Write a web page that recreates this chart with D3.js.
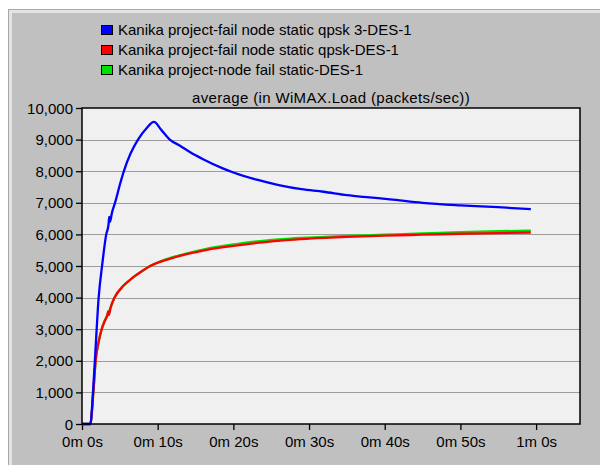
<!DOCTYPE html>
<html>
<head>
<meta charset="utf-8">
<script src="https://cdn.jsdelivr.net/npm/d3@7/dist/d3.min.js"></script>
<style>
  html, body { margin: 0; padding: 0; background: #ffffff; }
  svg { display: block; }
  text { font-family: "Liberation Sans", Arial, sans-serif; fill: #000; }
</style>
</head>
<body>
<svg id="chart" width="600" height="465"></svg>
<script>
// Series: time (seconds) and average WiMAX load (packets/sec)
const seriesNames = [
  "Kanika project-fail node static qpsk 3-DES-1",
  "Kanika project-fail node static qpsk-DES-1",
  "Kanika project-node fail static-DES-1"
];
const seriesColors = ["#0000ff", "#ff0000", "#00e000"];

const blueTime  = [0, 1.1, 1.45, 1.7, 2.2, 2.7, 3.2, 3.5, 3.6, 3.7, 3.95, 4.4, 5.0, 5.5, 6.4, 7.4, 8.5, 9.5, 10.5, 11.6, 13, 14.3, 16, 18.6, 20, 23.1, 26, 29, 31.9, 35, 38, 40.7, 45, 50, 55, 59.3];
const blueLoad  = [0, 0, 1000, 2000, 4000, 5100, 6000, 6300, 6550, 6400, 6680, 7030, 7570, 7980, 8550, 9000, 9350, 9560, 9300, 9000, 8800, 8600, 8380, 8090, 7960, 7730, 7560, 7430, 7350, 7240, 7170, 7110, 7000, 6920, 6860, 6800];

const redTime   = [0, 1.1, 1.5, 1.8, 2.2, 2.6, 3.0, 3.35, 3.45, 3.55, 3.8, 4.3, 5.5, 6.7, 8, 9, 10.3, 12, 14.7, 16, 18, 20, 23.5, 27, 30, 35, 40, 45, 50, 55, 59.3];
const redLoad   = [0, 0, 1000, 2000, 2600, 3000, 3260, 3450, 3560, 3450, 3700, 4000, 4380, 4630, 4850, 5000, 5130, 5260, 5420, 5490, 5570, 5640, 5740, 5820, 5865, 5920, 5960, 5990, 6020, 6040, 6060];

const greenTime = [0, 1.1, 1.5, 1.8, 2.2, 2.6, 3.0, 3.4, 3.8, 4.3, 5.5, 6.7, 8, 9, 10.3, 12, 14.7, 16, 18, 20, 23.5, 27, 30, 35, 40, 45, 50, 55, 59.3];
const greenLoad = [0, 0, 1000, 2000, 2600, 3000, 3260, 3480, 3700, 4000, 4380, 4630, 4850, 5000, 5140, 5280, 5450, 5520, 5610, 5680, 5790, 5860, 5900, 5950, 5990, 6030, 6070, 6100, 6120];

const yTicks = [0, 1000, 2000, 3000, 4000, 5000, 6000, 7000, 8000, 9000, 10000];
const xTicks = [0, 10, 20, 30, 40, 50, 60];
const xTickLabels = ["0m 0s", "0m 10s", "0m 20s", "0m 30s", "0m 40s", "0m 50s", "1m 0s"];
const chartTitle = "average (in WiMAX.Load (packets/sec))";

const svg = d3.select("#chart");

// Window frame
svg.append("rect").attr("x", 8).attr("y", 9).attr("width", 592).attr("height", 456).attr("fill", "#a9a9a9");
svg.append("rect").attr("x", 9).attr("y", 10).attr("width", 591).attr("height", 455).attr("fill", "#e4e4e4");
svg.append("rect").attr("x", 12).attr("y", 13).attr("width", 588).attr("height", 452).attr("fill", "#c0c0c0");

const plot = { left: 82, top: 108, right: 580, bottom: 424 };

const x = d3.scaleLinear().domain([0, 65.8]).range([plot.left, plot.right]);
const y = d3.scaleLinear().domain([0, 10000]).range([plot.bottom, plot.top]);

// Plot background
svg.append("rect")
  .attr("x", plot.left).attr("y", plot.top)
  .attr("width", plot.right - plot.left).attr("height", plot.bottom - plot.top)
  .attr("fill", "#f0f0f0");

// Horizontal grid
svg.append("g").selectAll("line").data(yTicks.slice(1, -1)).join("line")
  .attr("x1", plot.left).attr("x2", plot.right)
  .attr("y1", d => Math.round(y(d)) + 0.5).attr("y2", d => Math.round(y(d)) + 0.5)
  .attr("stroke", "#9c9c9c").attr("stroke-width", 1.2);

// Axes
const fmt = d3.format(",");
const yAxis = d3.axisLeft(y).tickValues(yTicks).tickFormat(fmt).tickSize(6).tickPadding(3);
const gy = svg.append("g").attr("transform", `translate(${plot.left},0)`).call(yAxis);
const xAxis = d3.axisBottom(x).tickValues(xTicks).tickFormat((d, i) => xTickLabels[i]).tickSize(6).tickPadding(6);
const gx = svg.append("g").attr("transform", `translate(0,${plot.bottom})`).call(xAxis);
[gx, gy].forEach(g => {
  g.select(".domain").remove();
  g.selectAll(".tick line").attr("stroke", "#000").attr("stroke-width", 1.3);
  g.selectAll(".tick text").attr("font-size", 15).attr("fill", "#000")
    .style("font-family", '"Liberation Sans", Arial, sans-serif');
});
gy.selectAll(".tick text").attr("dy", "0.34em");

// Lines
const line = d3.line().x(d => x(d[0])).y(d => y(d[1])).curve(d3.curveMonotoneX);
const series = [
  { t: greenTime, v: greenLoad, c: seriesColors[2] },
  { t: redTime, v: redLoad, c: seriesColors[1] },
  { t: blueTime, v: blueLoad, c: seriesColors[0] }
];
series.forEach(s => {
  svg.append("path")
    .datum(s.t.map((t, i) => [t, s.v[i]]))
    .attr("fill", "none").attr("stroke", s.c).attr("stroke-width", 2.3)
    .attr("stroke-linejoin", "round")
    .attr("d", line);
});

// Plot border
svg.append("rect")
  .attr("x", plot.left).attr("y", plot.top)
  .attr("width", plot.right - plot.left).attr("height", plot.bottom - plot.top)
  .attr("fill", "none").attr("stroke", "#000").attr("stroke-width", 1.5);

// Title
svg.append("text").attr("x", 331).attr("y", 103).attr("text-anchor", "middle")
  .attr("font-size", 15).attr("letter-spacing", 0.35).text(chartTitle);

// Legend
const legend = svg.append("g");
seriesNames.forEach((name, i) => {
  const row = legend.append("g").attr("transform", `translate(101,${25 + i * 20})`);
  row.append("rect").attr("x", 0.5).attr("y", 0.5).attr("width", 11).attr("height", 9)
    .attr("fill", seriesColors[i]).attr("stroke", "#000");
  row.append("text").attr("x", 17).attr("y", 10).attr("font-size", 15).text(name);
});
</script>
</body>
</html>
